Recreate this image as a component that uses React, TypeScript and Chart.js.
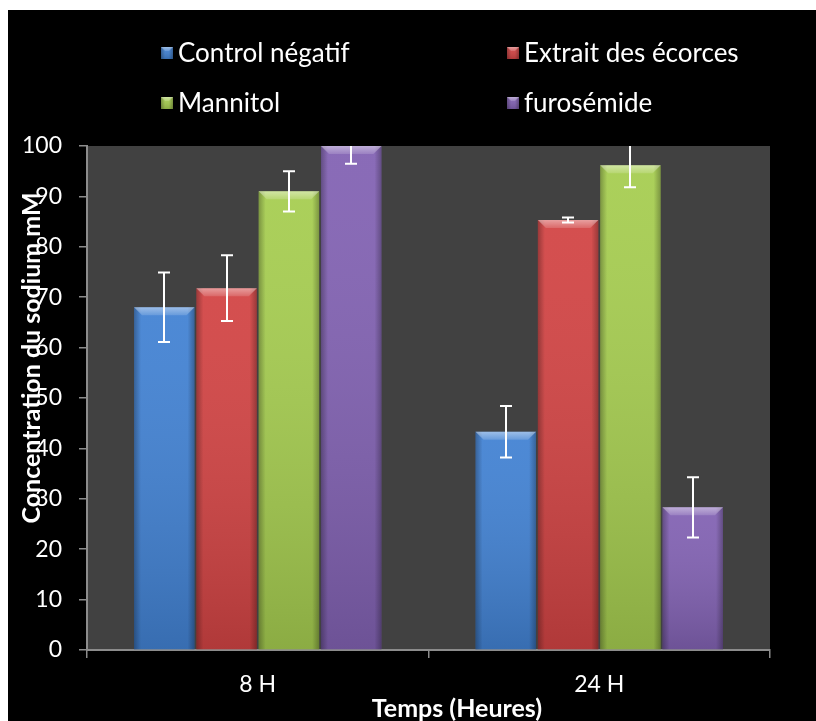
import { useEffect, useRef } from "react";
import { Chart, registerables } from "chart.js";

Chart.register(...registerables);

// Time points (x categories)
const categories = ["8 H", "24 H"];

// Series names
const seriesNames = ["Control négatif", "Extrait des écorces", "Mannitol", "furosémide"];

// Mean sodium concentration (mM) per time point
const controlValues = [68, 43.3];
const extraitValues = [71.8, 85.3];
const mannitolValues = [91, 96.2];
const furosemideValues = [100, 28.3];

// Error (± half-range) per time point
const controlErrors = [6.9, 5.1];
const extraitErrors = [6.5, 0.5];
const mannitolErrors = [4, 4.4];
const furosemideErrors = [3.5, 6];

// Y axis range and step
const yMin = 0;
const yMax = 100;
const yStep = 10;

const seriesColors = ["#4282d3", "#d24444", "#a6cd50", "#8262b3"];

const FONT = "Lato, 'Open Sans', sans-serif";

const W = 808;
const H = 711;

function shade(ctx: CanvasRenderingContext2D, left: number, top: number, right: number, bottom: number) {
  const w = right - left;
  const h = bottom - top;
  if (h <= 0) return;
  // vertical darkening toward the base
  const vg = ctx.createLinearGradient(0, top, 0, bottom);
  vg.addColorStop(0, "rgba(255,255,255,0.06)");
  vg.addColorStop(1, "rgba(0,0,0,0.16)");
  ctx.fillStyle = vg;
  ctx.fillRect(left, top, w, h);
  // side edges
  const e = Math.min(7, w / 3);
  const lg = ctx.createLinearGradient(left, 0, left + e, 0);
  lg.addColorStop(0, "rgba(0,0,0,0.28)");
  lg.addColorStop(1, "rgba(0,0,0,0)");
  ctx.fillStyle = lg;
  ctx.fillRect(left, top, e, h);
  const rg = ctx.createLinearGradient(right - e, 0, right, 0);
  rg.addColorStop(0, "rgba(0,0,0,0)");
  rg.addColorStop(1, "rgba(0,0,0,0.28)");
  ctx.fillStyle = rg;
  ctx.fillRect(right - e, top, e, h);
  // top bevel
  const b = Math.min(8, h / 2, w / 3);
  const tg = ctx.createLinearGradient(0, top, 0, top + b);
  tg.addColorStop(0, "rgba(255,255,255,0.45)");
  tg.addColorStop(1, "rgba(255,255,255,0.15)");
  ctx.fillStyle = tg;
  ctx.beginPath();
  ctx.moveTo(left, top);
  ctx.lineTo(right, top);
  ctx.lineTo(right - b, top + b);
  ctx.lineTo(left + b, top + b);
  ctx.closePath();
  ctx.fill();
}

export default function App() {
  const canvasRef = useRef<HTMLCanvasElement | null>(null);

  useEffect(() => {
    const canvas = canvasRef.current;
    if (!canvas) return;

    const valueSets = [controlValues, extraitValues, mannitolValues, furosemideValues];
    const errorSets = [controlErrors, extraitErrors, mannitolErrors, furosemideErrors];

    const backgroundPlugin = {
      id: "bgPlot",
      beforeDraw(chart: any) {
        const { ctx, chartArea } = chart;
        ctx.save();
        ctx.fillStyle = "#000000";
        ctx.fillRect(0, 0, chart.width, chart.height);
        ctx.fillStyle = "#414141";
        ctx.fillRect(chartArea.left, chartArea.top, chartArea.right - chartArea.left, chartArea.bottom - chartArea.top);
        ctx.restore();
      },
    };

    const bevelPlugin = {
      id: "bevel",
      afterDatasetsDraw(chart: any) {
        const { ctx, chartArea } = chart;
        ctx.save();
        ctx.beginPath();
        ctx.rect(chartArea.left, chartArea.top, chartArea.right - chartArea.left, chartArea.bottom - chartArea.top);
        ctx.clip();
        chart.data.datasets.forEach((_: any, di: number) => {
          const meta = chart.getDatasetMeta(di);
          meta.data.forEach((bar: any) => {
            const left = bar.x - bar.width / 2;
            const right = bar.x + bar.width / 2;
            shade(ctx, left, bar.y, right, bar.base);
          });
        });
        ctx.restore();
      },
    };

    const errorBarPlugin = {
      id: "errorBars",
      afterDatasetsDraw(chart: any) {
        const { ctx, chartArea, scales } = chart;
        const y = scales.y;
        ctx.save();
        ctx.beginPath();
        ctx.rect(chartArea.left, chartArea.top, chartArea.right - chartArea.left, chartArea.bottom - chartArea.top);
        ctx.clip();
        ctx.strokeStyle = "#ffffff";
        ctx.lineWidth = 2;
        chart.data.datasets.forEach((_: any, di: number) => {
          const meta = chart.getDatasetMeta(di);
          meta.data.forEach((bar: any, i: number) => {
            const v = valueSets[di][i];
            const e = errorSets[di][i];
            const yHi = y.getPixelForValue(v + e);
            const yLo = y.getPixelForValue(v - e);
            const cx = Math.round(bar.x);
            const cap = 6;
            ctx.beginPath();
            ctx.moveTo(cx, yHi);
            ctx.lineTo(cx, yLo);
            ctx.moveTo(cx - cap, yHi);
            ctx.lineTo(cx + cap, yHi);
            ctx.moveTo(cx - cap, yLo);
            ctx.lineTo(cx + cap, yLo);
            ctx.stroke();
          });
        });
        ctx.restore();
      },
    };

    const textPlugin = {
      id: "legendAndTitles",
      afterDraw(chart: any) {
        const { ctx } = chart;
        ctx.save();
        // legend: two rows, two columns
        const cols = [153, 499];
        const rows = [43, 93];
        ctx.font = `26px ${FONT}`;
        ctx.textBaseline = "middle";
        ctx.textAlign = "left";
        seriesNames.forEach((name, i) => {
          const bx = cols[i % 2];
          const by = rows[Math.floor(i / 2)];
          const s = 12;
          ctx.fillStyle = seriesColors[i];
          ctx.fillRect(bx, by - s / 2, s, s);
          shade(ctx, bx, by - s / 2, bx + s, by + s / 2);
          ctx.fillStyle = "#ffffff";
          ctx.fillText(name, bx + s + 5, by + 1);
        });
        // axis titles
        ctx.font = `bold 25px ${FONT}`;
        ctx.fillStyle = "#ffffff";
        ctx.textAlign = "center";
        ctx.textBaseline = "middle";
        ctx.fillText("Temps (Heures)", 449, 699);
        ctx.translate(24, 348);
        ctx.rotate(-Math.PI / 2);
        ctx.fillText("Concentration du sodium mM", 0, 0);
        ctx.restore();
      },
    };

    const chart = new Chart(canvas, {
      type: "bar",
      data: {
        labels: categories,
        datasets: seriesNames.map((name, i) => ({
          label: name,
          data: valueSets[i],
          backgroundColor: seriesColors[i],
          borderWidth: 0,
          categoryPercentage: 0.73,
          barPercentage: 0.97,
        })),
      },
      options: {
        responsive: false,
        animation: false,
        events: [],
        layout: { padding: { top: 136, right: 46, left: 0, bottom: 0 } },
        plugins: {
          legend: { display: false },
          title: { display: false },
          tooltip: { enabled: false },
        },
        scales: {
          x: {
            offset: true,
            grid: {
              offset: true,
              drawOnChartArea: false,
              drawTicks: true,
              tickLength: 8,
              color: "#8c8c8c",
              lineWidth: 1.5,
            },
            border: { color: "#8c8c8c", width: 2 },
            ticks: {
              color: "#ffffff",
              font: { family: FONT, size: 23 },
              padding: 13,
            },
            afterFit(scale: any) {
              scale.height = 71;
            },
          },
          y: {
            min: yMin,
            max: yMax,
            ticks: {
              stepSize: yStep,
              color: "#ffffff",
              font: { family: FONT, size: 23 },
              padding: 17,
            },
            grid: {
              drawOnChartArea: false,
              drawTicks: true,
              tickLength: 8,
              color: "#8c8c8c",
              lineWidth: 1.5,
            },
            border: { color: "#8c8c8c", width: 2 },
            afterFit(scale: any) {
              scale.width = 79;
            },
          },
        },
      },
      plugins: [backgroundPlugin, bevelPlugin, errorBarPlugin, textPlugin],
    } as any);

    return () => {
      chart.destroy();
    };
  }, []);

  return (
    <div
      style={{
        position: "fixed",
        left: 8,
        top: 10,
        width: W,
        height: H,
        background: "#000000",
      }}
    >
      <canvas ref={canvasRef} width={W} height={H} style={{ display: "block" }} />
    </div>
  );
}
